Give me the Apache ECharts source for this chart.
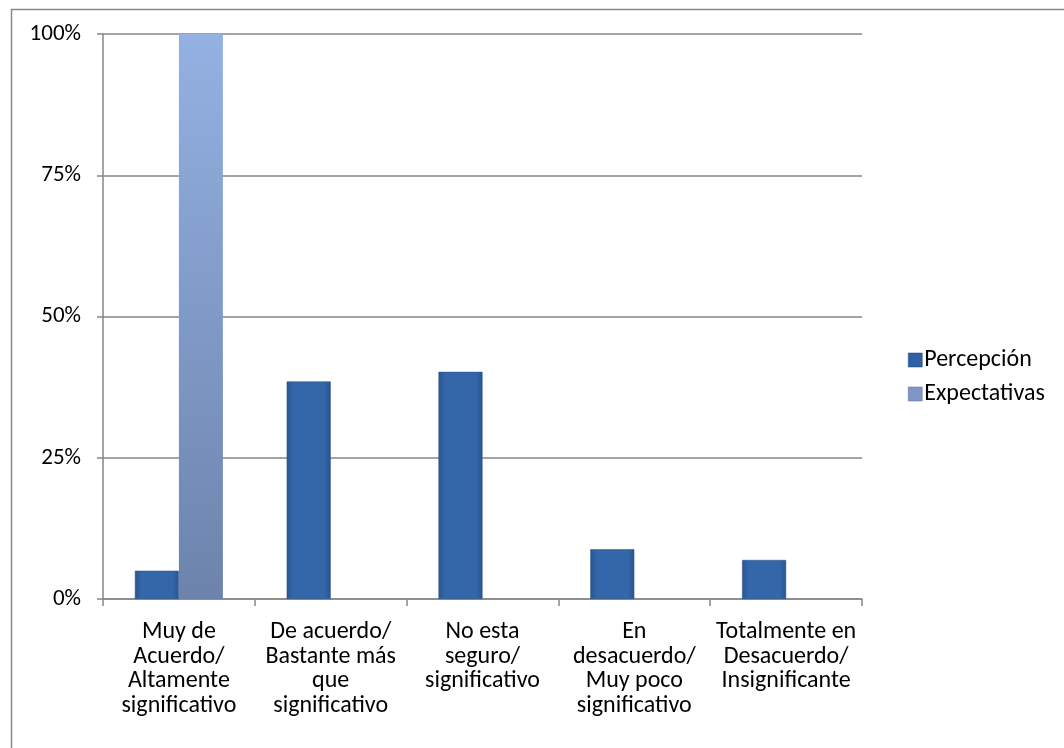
<!DOCTYPE html>
<html><head><meta charset="utf-8">
<script src="https://cdn.jsdelivr.net/npm/echarts@6/dist/echarts.min.js"></script>
<style>html,body{margin:0;padding:0;background:#fff}#c{width:1064px;height:748px}</style>
</head><body><div id="c"></div>
<script>
const categories = [
  "Muy de\nAcuerdo/\nAltamente\nsignificativo",
  "De acuerdo/\nBastante más\nque\nsignificativo",
  "No esta\nseguro/\nsignificativo",
  "En\ndesacuerdo/\nMuy poco\nsignificativo",
  "Totalmente en\nDesacuerdo/\nInsignificante"
];
const percepcion = [5.0, 38.5, 40.2, 8.8, 6.9];
const expectativas = [100, 0, 0, 0, 0];
const yTicks = { min: 0, max: 100, interval: 25 };

const FONT = 'Carlito, Lato, "Open Sans", sans-serif';
const chart = echarts.init(document.getElementById('c'));
const percColor = new echarts.graphic.LinearGradient(0,0,1,0,[
  {offset:0,color:'#2a5590'},{offset:0.15,color:'#3466aa'},{offset:0.85,color:'#3466aa'},{offset:1,color:'#2a5590'}]);
const expColor = new echarts.graphic.LinearGradient(0,0,0,1,[
  {offset:0,color:'#93b1e2'},{offset:1,color:'#6d83ac'}]);
chart.setOption({
  animation:false,
  textStyle:{fontFamily:FONT},
  graphic:[{type:'rect',left:9,top:7,shape:{width:1100,height:800},style:{fill:'none',stroke:'#8a8a8a',lineWidth:1.5},silent:true}],
  grid:{left:103,right:202,top:34,bottom:149},
  legend:{
    orient:'vertical', left:903, top:343, itemWidth:14, itemHeight:14, itemGap:10,
    icon:'rect',
    textStyle:{fontFamily:FONT,fontSize:24,color:'#000',padding:[0,0,0,-3]},
    data:[{name:'Percepción',itemStyle:{color:'#2f60a4',borderColor:'#1f4475',borderWidth:0.5}},
          {name:'Expectativas',itemStyle:{color:'#7f96c4',borderColor:'#5a6e96',borderWidth:0.5}}]
  },
  xAxis:{
    type:'category', data:categories,
    axisLine:{lineStyle:{color:'#868686',width:1.5}},
    axisTick:{show:true,length:7,interval:0,lineStyle:{color:'#868686',width:1.5}},
    axisLabel:{interval:0,color:'#000',fontSize:24,lineHeight:24.5,margin:21,fontFamily:FONT}
  },
  yAxis:{
    type:'value', min:yTicks.min, max:yTicks.max, interval:yTicks.interval,
    axisLine:{show:true,lineStyle:{color:'#868686',width:1.5}},
    axisTick:{show:true,length:6,lineStyle:{color:'#868686',width:1.5}},
    splitLine:{lineStyle:{color:'#868686',width:1.5}},
    axisLabel:{formatter:'{value}%',color:'#000',fontSize:23,margin:22,fontFamily:FONT}
  },
  series:[
    {name:'Percepción',type:'bar',data:percepcion,barWidth:44,barGap:'0%',
     itemStyle:{color:percColor,borderColor:'#27508a',borderWidth:0.5}},
    {name:'Expectativas',type:'bar',data:expectativas,barWidth:44,
     itemStyle:{color:expColor,borderWidth:0}}
  ]
});
</script></body></html>
